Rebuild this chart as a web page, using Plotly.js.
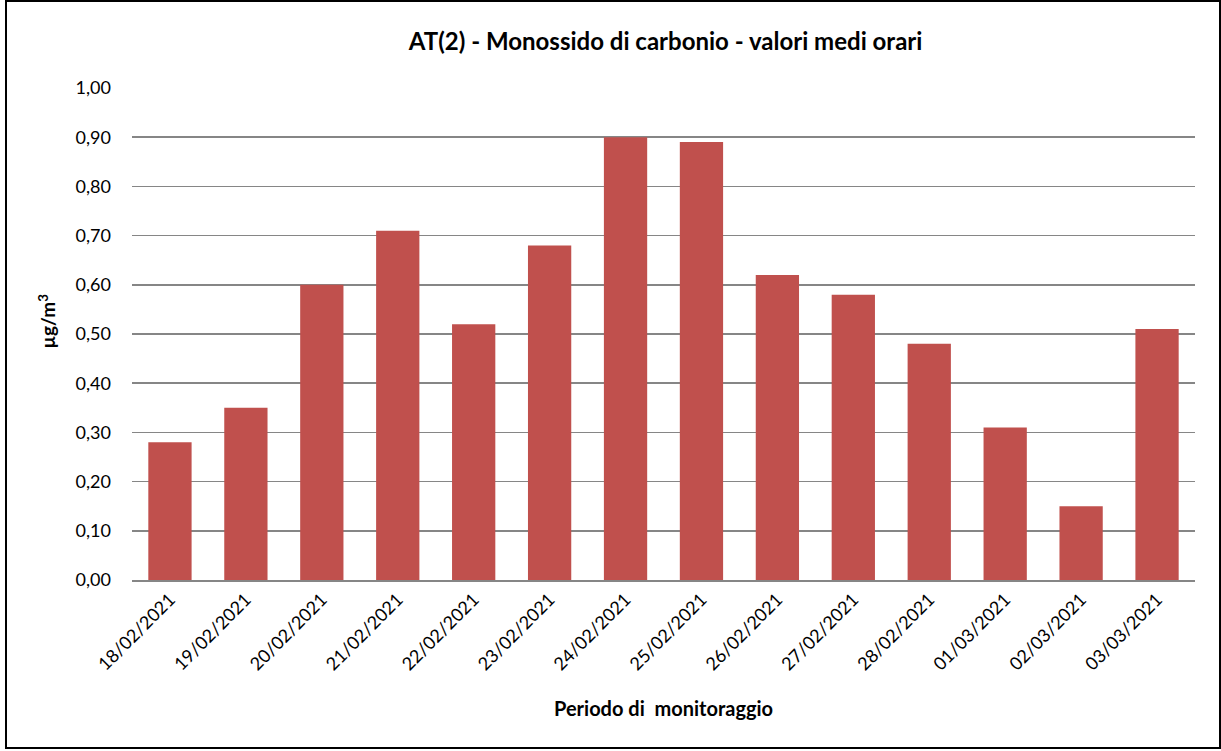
<!DOCTYPE html>
<html>
<head>
<meta charset="utf-8">
<script src="https://cdn.plot.ly/plotly-3.0.1.min.js"></script>
<style>
  html, body { margin: 0; padding: 0; background: #fff; }
  #wrap { position: relative; width: 1221px; height: 751px; }
  #chart { position: absolute; left: 0; top: 0; width: 1221px; height: 751px; }
  #frame { position: absolute; left: 5px; top: 0px; width: 1216px; height: 749px;
           border: 2px solid #000; box-sizing: border-box; pointer-events: none; }
</style>
</head>
<body>
<div id="wrap">
  <div id="chart"></div>
  <div id="frame"></div>
</div>
<script>
const categories = ["18/02/2021","19/02/2021","20/02/2021","21/02/2021","22/02/2021","23/02/2021","24/02/2021","25/02/2021","26/02/2021","27/02/2021","28/02/2021","01/03/2021","02/03/2021","03/03/2021"];
const values = [0.28, 0.35, 0.60, 0.71, 0.52, 0.68, 0.90, 0.89, 0.62, 0.58, 0.48, 0.31, 0.15, 0.51];
const yTicks = [0, 0.1, 0.2, 0.3, 0.4, 0.5, 0.6, 0.7, 0.8, 0.9, 1.0];

const FONT = "Lato, 'Open Sans', sans-serif";

const trace = {
  type: "bar",
  x: categories,
  y: values,
  marker: { color: "#C0504D" },
  hoverinfo: "x+y"
};

const layout = {
  width: 1221,
  height: 751,
  margin: { l: 132, r: 26, t: 88, b: 171 },
  paper_bgcolor: "#fff",
  plot_bgcolor: "#fff",
  separators: ",.",
  bargap: 0.43,
  showlegend: false,
  font: { family: FONT, color: "#000", size: 18 },
  title: {
    text: "<b>AT(2) - Monossido di carbonio - valori medi orari</b>",
    font: { family: FONT, size: 24, color: "#000" },
    x: 0.502, xref: "paper", xanchor: "center",
    y: 1 - 42 / 751, yref: "container", yanchor: "middle"
  },
  xaxis: {
    type: "category",
    tickangle: -45,
    tickfont: { family: FONT, size: 18, color: "#000" },
    showline: true,
    linecolor: "#868686",
    linewidth: 2,
    ticks: "",
    showgrid: false
  },
  yaxis: {
    range: [0, 1.0],
    tickvals: yTicks,
    tickformat: ".2f",
    tickfont: { family: FONT, size: 18, color: "#000" },
    showgrid: true,
    gridcolor: "#868686",
    gridwidth: 1.5,
    zeroline: false,
    showline: false,
    ticks: "",
    ticklabelstandoff: 20
  },
  annotations: [
    {
      text: "<b>µg/m<sup>3</sup></b>",
      xref: "paper", yref: "paper",
      x: (47 - 132) / 1063, y: (580.5 - 322) / 492,
      xanchor: "center", yanchor: "middle",
      textangle: -90,
      showarrow: false,
      font: { family: FONT, size: 19, color: "#000" }
    },
    {
      text: "<b>Periodo di  monitoraggio</b>",
      xref: "paper", yref: "paper",
      x: 0.5, y: (580.5 - 708) / 492,
      xanchor: "center", yanchor: "middle",
      showarrow: false,
      font: { family: FONT, size: 20, color: "#000" }
    }
  ]
};

Plotly.newPlot("chart", [trace], layout, { displayModeBar: false, staticPlot: true });
</script>
</body>
</html>
